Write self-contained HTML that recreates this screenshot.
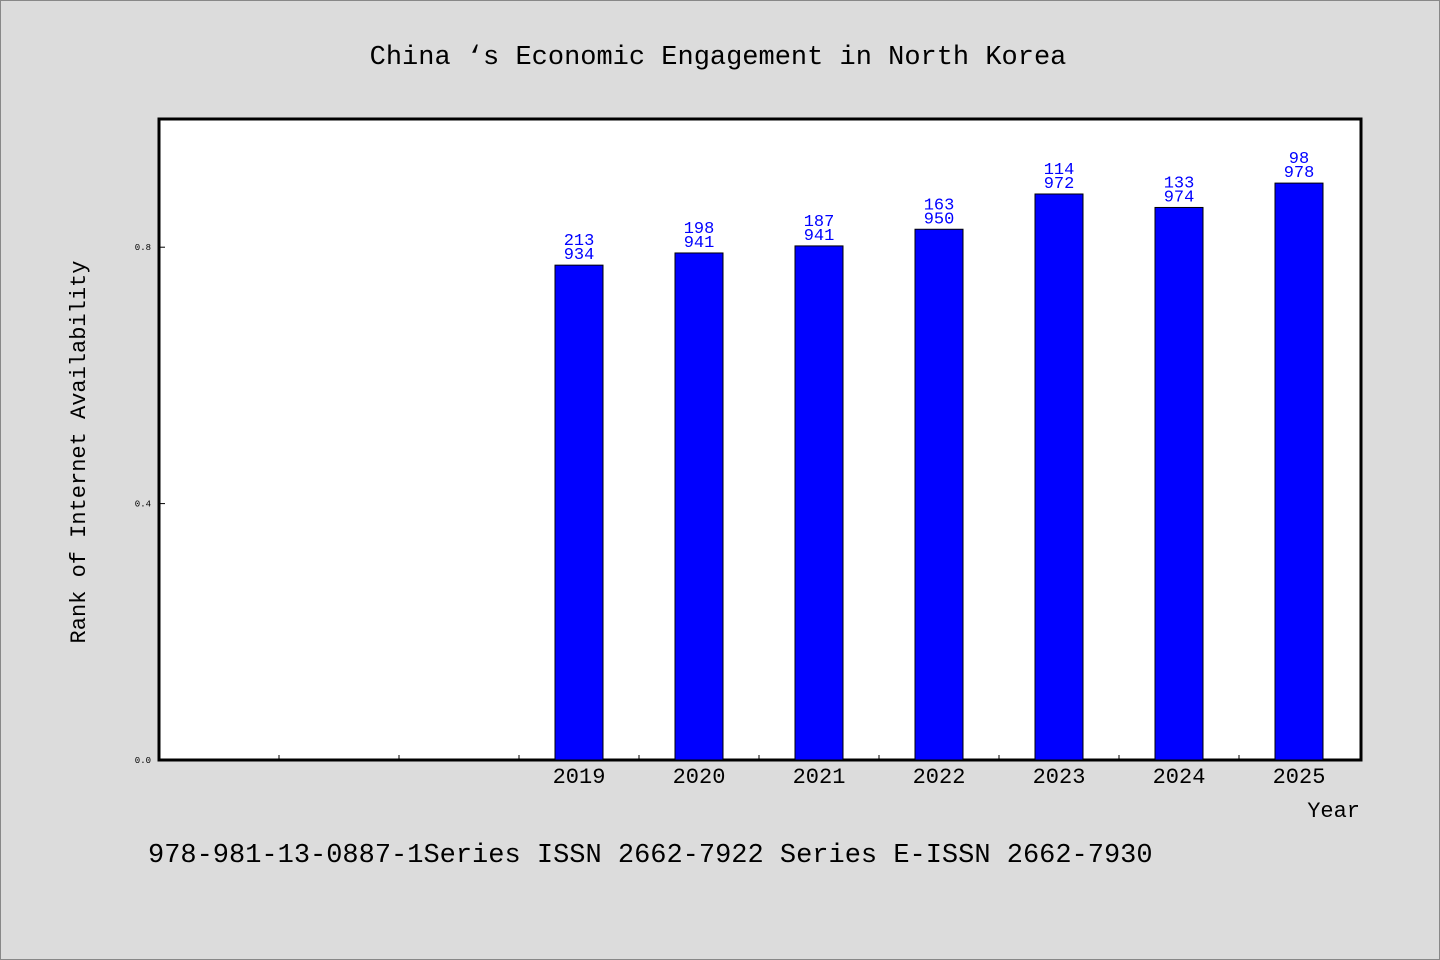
<!DOCTYPE html>
<html><head><meta charset="utf-8"><style>
body{margin:0;background:#dcdcdc;}
svg{display:block;font-family:"WenQuanYi Zen Hei","Liberation Mono",monospace;}
</style></head><body>
<svg id="chart" width="1440" height="960" viewBox="0 0 1440 960">
<rect x="0.5" y="0.5" width="1439" height="959" fill="#dcdcdc" stroke="#888"/>
<text x="718" y="64" font-size="27" text-anchor="middle">China ‘s Economic Engagement in North Korea</text>
<rect x="159" y="119" width="1202" height="641" fill="#fff" stroke="#000" stroke-width="3"/>
<g id="ticks"></g>
<g id="bars"></g>
<text transform="translate(85,452) rotate(-90)" font-size="22" text-anchor="middle">Rank of Internet Availability</text>
<text x="1360" y="817" font-size="22" text-anchor="end">Year</text>
<text x="148" y="862" font-size="27">978-981-13-0887-1Series ISSN 2662-7922 Series E-ISSN 2662-7930</text>
</svg>
<script>
const categories=["2019","2020","2021","2022","2023","2024","2025"];
const values=[0.772,0.791,0.802,0.828,0.883,0.862,0.90];
const ranks=["213","198","187","163","114","133","98"];
const counts=["934","941","941","950","972","974","978"];
const yTicks=[0.0,0.4,0.8];
const yTickLabels=["0.0","0.4","0.8"];
const NS="http://www.w3.org/2000/svg";
const x0=159,slotW=120,offset=3,y0=760,yMax=1.0,plotH=641;
function y(v){return y0-v/yMax*plotH;}
function xc(i){return x0+(i+offset)*slotW+slotW/2;}
function mk(t,a,p){const e=document.createElementNS(NS,t);for(const k in a)e.setAttribute(k,a[k]);p.appendChild(e);return e;}
const tg=document.getElementById('ticks'),bg=document.getElementById('bars');
yTicks.forEach((v,i)=>{
 const l=mk('line',{x1:x0,x2:x0+6,y1:y(v),y2:y(v),stroke:'#000'},tg);
 
 
 const t=mk('text',{x:x0-8,y:y(v)+3,'font-size':9,'text-anchor':'end'},tg);t.textContent=yTickLabels[i];
 
 
});
for(let k=1;k<10;k++){
 const l=mk('line',{x1:x0+k*slotW,x2:x0+k*slotW,y1:y0,y2:y0-5,stroke:'#000'},tg);
 
 
}
categories.forEach((c,i)=>{
 const cx=xc(i),top=y(values[i]);
 const r=mk('rect',{x:cx-24,y:top,width:48,height:y0-top,fill:'#0000ff',stroke:'#000','stroke-width':1},bg);
 
 
 const t1=mk('text',{x:cx,y:top-20,'font-size':17,'text-anchor':'middle',fill:'#0000ff'},bg);t1.textContent=ranks[i];
 
 
 const t2=mk('text',{x:cx,y:top-6,'font-size':17,'text-anchor':'middle',fill:'#0000ff'},bg);t2.textContent=counts[i];
 
 
 const xl=mk('text',{x:cx,y:783,'font-size':22,'text-anchor':'middle'},bg);xl.textContent=c;
 
 
});
</script>
</body></html>
